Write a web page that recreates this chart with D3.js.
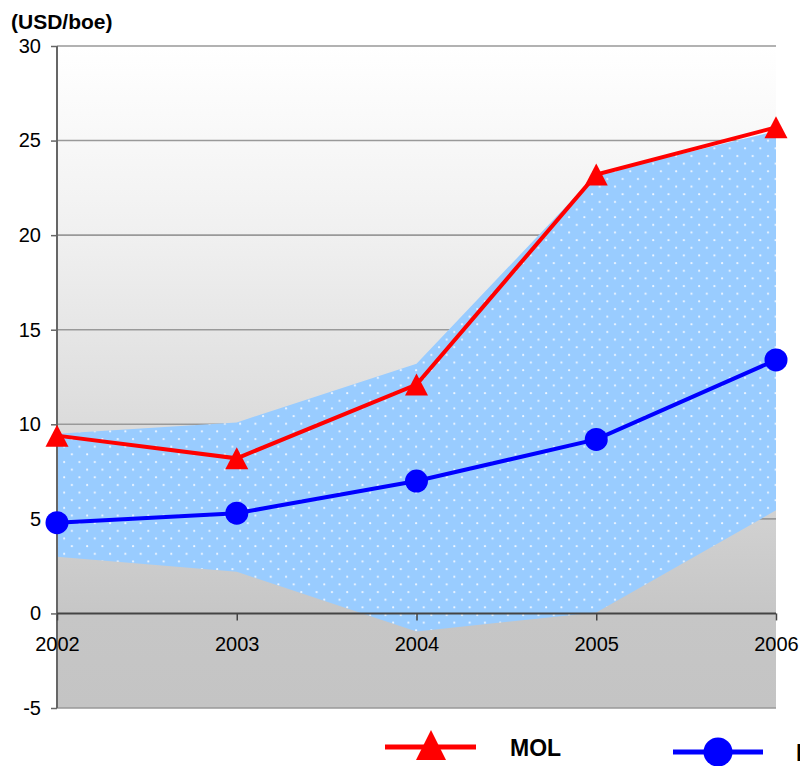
<!DOCTYPE html>
<html>
<head>
<meta charset="utf-8">
<script src="https://cdn.jsdelivr.net/npm/d3@7/dist/d3.min.js"></script>
<style>
  html, body { margin: 0; padding: 0; background: #ffffff; }
  svg { display: block; font-family: "Liberation Sans", Arial, sans-serif; }
</style>
</head>
<body>
<svg id="chart" width="800" height="766"></svg>
<script>
// Unit costs, USD per barrel of oil equivalent
const years = ["2002", "2003", "2004", "2005", "2006"];
const molValues = [9.4, 8.2, 12.1, 23.2, 25.7];
const peerAverage = [4.8, 5.3, 7.0, 9.2, 13.4];
const peerRangeLow = [3.0, 2.2, -0.95, 0.05, 5.45];
const peerRangeHigh = [9.5, 10.1, 13.2, 23.2, 25.5];
const yTicks = [-5, 0, 5, 10, 15, 20, 25, 30];
const seriesNames = ["MOL", "Peer group average"];

(function draw() {
  const svg = d3.select("#chart");
  const plotLeft = 57, plotRight = 776, plotTop = 46, plotBottom = 708;

  const x = d3.scalePoint().domain(years).range([plotLeft, plotRight]);
  const y = d3.scaleLinear().domain([-5, 30]).range([plotBottom, plotTop]);

  const defs = svg.append("defs");

  // plot background: white fading to grey
  const grad = defs.append("linearGradient")
    .attr("id", "bg").attr("gradientUnits", "userSpaceOnUse")
    .attr("x1", 0).attr("x2", 0).attr("y1", plotTop).attr("y2", plotBottom);
  [[0, "#ffffff"], [0.14, "#f8f8f8"], [0.285, "#f0f0f0"], [0.43, "#e6e6e6"],
   [0.565, "#dcdcdc"], [0.86, "#c6c6c6"], [1, "#c4c4c4"]]
    .forEach(([o, c]) => grad.append("stop").attr("offset", o).attr("stop-color", c));

  // dotted light-blue fill for the peer range band
  const pat = defs.append("pattern")
    .attr("id", "dots").attr("patternUnits", "userSpaceOnUse")
    .attr("width", 15.3).attr("height", 15.3);
  pat.append("rect").attr("width", 15.3).attr("height", 15.3).attr("fill", "#99ccff");
  pat.append("circle").attr("cx", 3).attr("cy", 3).attr("r", 1.1).attr("fill", "#eef6ff");
  pat.append("circle").attr("cx", 10.65).attr("cy", 10.65).attr("r", 1.1).attr("fill", "#eef6ff");

  svg.append("rect")
    .attr("x", plotLeft).attr("y", plotTop)
    .attr("width", plotRight - plotLeft).attr("height", plotBottom - plotTop)
    .attr("fill", "url(#bg)");

  // horizontal gridlines
  svg.append("g").selectAll("line")
    .data(yTicks.filter(t => t !== 0))
    .join("line")
    .attr("x1", plotLeft).attr("x2", plotRight)
    .attr("y1", d => y(d)).attr("y2", d => y(d))
    .attr("stroke", "#999999").attr("stroke-width", 1.6);

  // peer range band
  const band = years.map((yr, i) => ({ yr, lo: peerRangeLow[i], hi: peerRangeHigh[i] }));
  svg.append("path")
    .datum(band)
    .attr("d", d3.area().x(d => x(d.yr)).y0(d => y(d.lo)).y1(d => y(d.hi)))
    .attr("fill", "url(#dots)");

  // y axis
  const yAxis = svg.append("g").attr("transform", `translate(${plotLeft},0)`)
    .call(d3.axisLeft(y).tickValues(yTicks).tickSize(6).tickPadding(10).tickFormat(d => String(d)));
  yAxis.select(".domain").attr("stroke", "#666666").attr("stroke-width", 2)
    .attr("d", `M0,${plotTop}V${plotBottom}`);
  yAxis.selectAll(".tick line").attr("stroke", "#666666").attr("stroke-width", 1.5);
  yAxis.selectAll(".tick text").attr("font-size", 20).attr("fill", "#000")
    .attr("font-family", "'Liberation Sans', Arial, sans-serif");

  // x axis along zero
  const xAxis = svg.append("g").attr("transform", `translate(0,${y(0)})`)
    .call(d3.axisBottom(x).tickSize(7).tickSizeOuter(0).tickPadding(16));
  xAxis.select(".domain").attr("stroke", "#444444").attr("stroke-width", 2)
    .attr("d", `M${plotLeft},0H${plotRight}`);
  xAxis.selectAll(".tick line").attr("stroke", "#444444").attr("stroke-width", 1.5);
  xAxis.selectAll(".tick text").attr("font-size", 20).attr("fill", "#000")
    .attr("font-family", "'Liberation Sans', Arial, sans-serif");

  // unit label
  svg.append("text").attr("x", 11).attr("y", 29)
    .attr("font-size", 21).attr("font-weight", "bold").text("(USD/boe)");

  const tri = (cx, cy, w, h) =>
    `M${cx},${cy - h / 2}L${cx + w / 2},${cy + h / 2}L${cx - w / 2},${cy + h / 2}Z`;

  const line = d3.line().x((d, i) => x(years[i])).y(d => y(d));

  // peer average line with circles
  svg.append("path").datum(peerAverage).attr("d", line)
    .attr("fill", "none").attr("stroke", "#0000ff").attr("stroke-width", 4);
  svg.append("g").selectAll("circle").data(peerAverage).join("circle")
    .attr("cx", (d, i) => x(years[i])).attr("cy", d => y(d)).attr("r", 11.5)
    .attr("fill", "#0000ff");

  // MOL line with triangles
  svg.append("path").datum(molValues).attr("d", line)
    .attr("fill", "none").attr("stroke", "#ff0000").attr("stroke-width", 4);
  svg.append("g").selectAll("path").data(molValues).join("path")
    .attr("d", (d, i) => tri(x(years[i]), y(d), 23, 22))
    .attr("fill", "#ff0000");

  // legend (second entry runs past the right edge of the frame)
  const lg = svg.append("g");
  lg.append("line").attr("x1", 385).attr("x2", 476).attr("y1", 747).attr("y2", 747)
    .attr("stroke", "#ff0000").attr("stroke-width", 5);
  lg.append("path").attr("d", tri(431, 745, 30, 30)).attr("fill", "#ff0000");
  lg.append("text").attr("x", 510).attr("y", 756).attr("font-size", 23)
    .attr("font-weight", "bold").text(seriesNames[0]);
  lg.append("line").attr("x1", 673).attr("x2", 763).attr("y1", 752).attr("y2", 752)
    .attr("stroke", "#0000ff").attr("stroke-width", 5);
  lg.append("circle").attr("cx", 718).attr("cy", 752).attr("r", 14.5).attr("fill", "#0000ff");
  lg.append("text").attr("x", 796).attr("y", 761).attr("font-size", 23)
    .attr("font-weight", "bold").text(seriesNames[1]);
})();
</script>
</body>
</html>
